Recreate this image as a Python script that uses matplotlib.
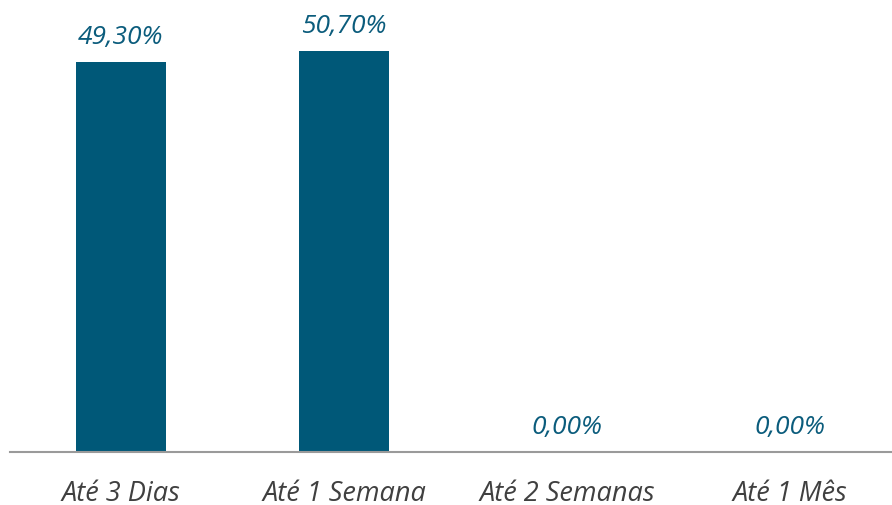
import matplotlib.pyplot as plt

categorias = ['Até 3 Dias', 'Até 1 Semana', 'Até 2 Semanas', 'Até 1 Mês']
percentuais = [49.30, 50.70, 0.00, 0.00]

cor_barra = '#005878'
cor_rotulo = '#0b5c7c'

plt.rcParams['font.family'] = ['Open Sans', 'DejaVu Sans']

fig = plt.figure(figsize=(8.92, 5.05), dpi=100)
# eixo um pouco mais largo que a figura, a linha de base corta na borda direita
ax = fig.add_axes([9.5 / 892, 1 - 452 / 505, 892 / 892, 452 / 505])

x = list(range(len(categorias)))
barras = ax.bar(x, percentuais, width=0.4, color=cor_barra)

for xi, v in zip(x, percentuais):
    rotulo = f'{v:.2f}%'.replace('.', ',')
    ax.annotate(rotulo, (xi, v), xytext=(0, 12), textcoords='offset pixels',
                ha='center', va='bottom', fontsize=19, style='italic',
                color=cor_rotulo)

ax.set_xlim(-0.5, 3.5)
ax.set_ylim(0, 452 / 7.91)
ax.set_xticks(x)
ax.set_xticklabels(categorias, fontsize=19.5, style='italic', color='#404040')
ax.tick_params(axis='x', length=0, pad=20)
ax.set_yticks([])

for lado in ['top', 'right', 'left']:
    ax.spines[lado].set_visible(False)
ax.spines['bottom'].set_color('#9a9a9a')
ax.spines['bottom'].set_linewidth(1.5)

fig.savefig('out.png', dpi=100)
